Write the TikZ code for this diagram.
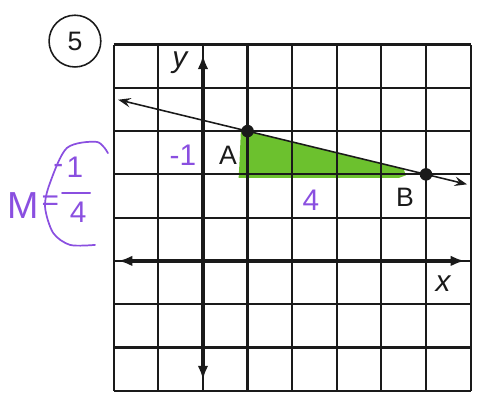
\documentclass[tikz,border=0pt]{standalone}
\usepackage{fontspec}
\setmainfont{Liberation Sans}
\usetikzlibrary{arrows.meta}
\definecolor{SlopeGreen}{HTML}{6CC12E}
\definecolor{SlopeInk}{HTML}{8A4FE0}
\definecolor{GridInk}{HTML}{1A1A1A}

\begin{document}
\begin{tikzpicture}[x=1cm,y=0.97cm,
    dot/.style={circle,fill=GridInk,inner sep=0pt,minimum size=8pt},
    lbl/.style={text=GridInk,font=\fontsize{17}{17}\selectfont},
    ink/.style={text=SlopeInk,font=\fontsize{19}{19}\selectfont},
    inkline/.style={draw=SlopeInk,line width=1.1pt,line cap=round}]
  \useasboundingbox (-4.55,-3.49) rectangle (6.30,6.03);
  % rise and run
  \fill[SlopeGreen] (0.85,3.0) -- (1,3) -- (4.5,2.12) -- (4.55,1.98) -- (4.4,1.92) -- (0.8,1.92) -- (0.82,2.3) -- cycle;
  \foreach \gx in {-2,...,6}
    \draw[GridInk,line width=1.4pt] (\gx,-3) -- (\gx,5);
  \foreach \gy in {-3,...,5}
    \draw[GridInk,line width=1.4pt] (-2,\gy) -- (6,\gy);
  % axes
  \coordinate (xl) at (-1.9,0);
  \coordinate (xr) at (5.87,0);
  \coordinate (yb) at (0,-2.75);
  \coordinate (yt) at (0,4.76);
  \draw[GridInk,line width=2.4pt,{Latex[length=9pt]}-{Latex[length=9pt]}] (xl) -- (xr);
  \draw[GridInk,line width=2.4pt,{Latex[length=9pt]}-{Latex[length=9pt]}] (yb) -- (yt);
  \node[lbl,font=\fontsize{19}{19}\selectfont\itshape] (ylab) at (-0.52,4.59) {y};
  \node[lbl,font=\fontsize{19}{19}\selectfont\itshape] (xlab) at (5.38,-0.53) {x};
  % the line through A and B
  \coordinate (lineL) at (-1.9,3.725);
  \coordinate (lineR) at (5.92,1.77);
  \draw[GridInk,line width=1pt,{Stealth[length=8pt,inset=3pt]}-{Stealth[length=8pt,inset=3pt]}] (lineL) -- (lineR);
  \node[dot] (A) at (1,3) {};
  \node[dot] (B) at (5,2) {};
  \node[lbl] (Alab) at (0.56,2.45) {A};
  \node[lbl] (Blab) at (4.53,1.48) {B};
  \node[ink] (rise) at (-0.45,2.45) {-1};
  \node[ink] (run) at (2.42,1.41) {4};
  % number in a circle
  \node[lbl,draw=GridInk,circle,line width=1pt,minimum size=1.16cm,inner sep=0pt] (num5) at (-2.87,5.08) {5};
  % slope
  \node[ink,font=\fontsize{24}{24}\selectfont] (M) at (-4.04,1.29) {M};
  \node[ink] (eq) at (-3.42,1.33) {=};
  \node[ink] (minus) at (-3.24,2.12) {-};
  \node[ink] (one) at (-2.87,2.17) {1};
  \node[ink] (four) at (-2.8,1.12) {4};
  \draw[inkline] (-3.16,1.57) -- (-2.53,1.57);
  \draw[inkline] plot[smooth] coordinates {(-2.13,2.49) (-2.38,2.75) (-3.05,2.61) (-3.43,1.80) (-3.54,1.25) (-3.36,0.65) (-2.98,0.37) (-2.42,0.37)};
\end{tikzpicture}
\end{document}
